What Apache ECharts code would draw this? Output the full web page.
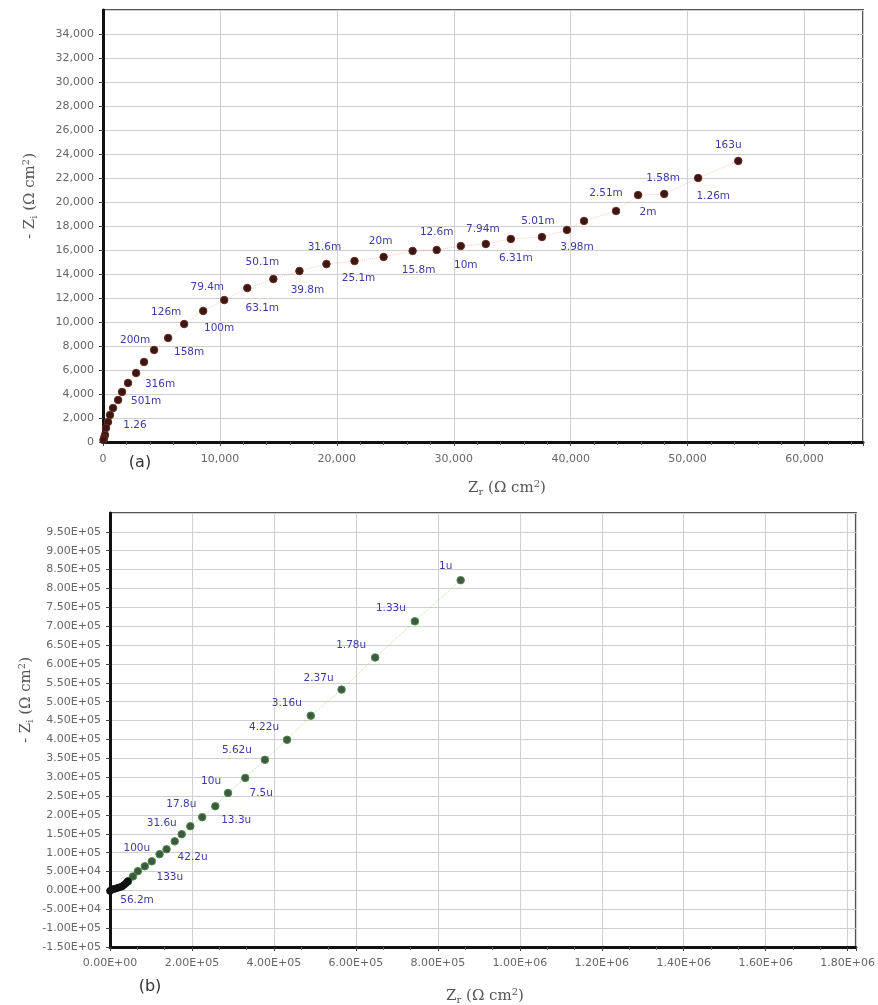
<!DOCTYPE html>
<html>
<head>
<meta charset="utf-8">
<script src="https://cdn.jsdelivr.net/npm/echarts@6/dist/echarts.min.js"></script>
<style>
  html, body { margin: 0; padding: 0; background: #fff; }
  #chart { width: 878px; height: 1005px; }
</style>
</head>
<body>
<div id="chart"></div>
<script>
// (a) Nyquist — Zr / -Zi (Ω cm²), labels = frequency
const zrA = [54330, 50900, 48000, 45760, 43880, 41140, 39680, 37540, 34880, 32740, 30600, 28540,
  26480, 24000, 21510, 19110, 16800, 14570, 12340, 10370, 8570, 6940, 5570, 4370, 3510, 2830,
  2140, 1630, 1290, 860, 600, 430, 260, 170, 90, 40];
const ziA = [23420, 22000, 20670, 20580, 19250, 18420, 17670, 17080, 16920, 16500, 16330, 16000,
  15920, 15420, 15080, 14830, 14250, 13580, 12830, 11830, 10920, 9830, 8670, 7670, 6670, 5750,
  4920, 4170, 3500, 2830, 2250, 1670, 1170, 580, 330, 170];
const lblA = ["163u", "1.58m", "1.26m", "2.51m", "2m", "", "3.98m", "5.01m", "6.31m", "7.94m", "10m", "12.6m",
  "15.8m", "20m", "25.1m", "31.6m", "39.8m", "50.1m", "63.1m", "79.4m", "126m", "100m", "158m", "200m", "", "",
  "316m", "", "501m", "", "", "1.26", "", "", "", ""];
// label offsets (px) from the point, kept apart from the values
const offA = [[-10,-16],[-35,0],[49,2],[-32,-2],[32,1],[0,0],[10,17],[-4,-16],[5,19],[-3,-15],[5,19],[0,-18],
  [6,19],[-3,-16],[4,17],[-2,-17],[8,19],[-11,-17],[15,20],[-17,-13],[-37,1],[35,4],[21,14],[-19,-10],[0,0],[0,0],
  [32,1],[0,0],[28,1],[0,0],[0,0],[27,3],[0,0],[0,0],[0,0],[0,0]];

// (b) high-frequency tail (black) + main arc (green)
const zrB0 = [0, 4800, 9700, 14500, 19400, 24200, 29100, 33900, 38800, 43600];
const ziB0 = [-1300, 2700, 4000, 5300, 6700, 8000, 10600, 14600, 18600, 23900];
const zrB = [855700, 744000, 647000, 565000, 490000, 432000, 378000, 330000, 288000, 257000, 225000,
  196000, 175000, 158000, 138000, 121000, 102000, 85000, 68000, 56000, 44000];
const ziB = [822000, 713000, 617000, 532000, 463000, 399000, 346000, 298000, 258000, 223000, 194000,
  170000, 149000, 130000, 109000, 96000, 77000, 64000, 51000, 37000, 24000];
const lblB = ["1u", "1.33u", "1.78u", "2.37u", "3.16u", "4.22u", "5.62u", "7.5u", "10u", "17.8u", "13.3u",
  "", "31.6u", "", "42.2u", "", "100u", "133u", "", "", ""];
const offB = [[-15,-14],[-24,-13],[-24,-12],[-23,-11],[-24,-12],[-23,-13],[-28,-10],[16,15],[-17,-12],[-34,-2],[34,3],
  [0,0],[-20,-11],[0,0],[26,8],[0,0],[-15,-13],[25,11],[0,0],[0,0],[0,0]];
const lblB0 = "56.2m";

const AX = "#666", LBL = "#3b3ba6";

function sci(v) {
  const [m, e] = v.toExponential(2).split("e");
  const n = parseInt(e, 10);
  return m + "E" + (n < 0 ? "-" : "+") + String(Math.abs(n)).padStart(2, "0");
}
function thousands(v) { return v.toLocaleString("en-US"); }

function pts(xs, ys, labels, offs) {
  return xs.map((x, i) => {
    const d = { value: [x, ys[i]] };
    if (labels && labels[i]) d.label = { show: true, formatter: labels[i], offset: offs[i] };
    return d;
  });
}

const axisBase = (fmt) => ({
  type: "value",
  axisLine: { show: true, onZero: false, lineStyle: { color: "#111", width: 3 } },
  axisTick: { show: true, length: 4, lineStyle: { color: "#444" } },
  axisLabel: { color: AX, fontSize: 11, fontFamily: "DejaVu Sans", formatter: fmt, showMaxLabel: false },
  splitLine: { show: true, lineStyle: { color: "#cfcfcf", width: 1 } },
});

const labelStyle = { position: "inside", color: LBL, fontSize: 10.5, fontFamily: "DejaVu Sans" };

const titleRich = {
  n: { fontSize: 15, fontFamily: "DejaVu Serif", fill: "#555" },
  s: { fontSize: 10, fontFamily: "DejaVu Serif", fill: "#555", padding: [8, 0, 0, 0] },
  p: { fontSize: 10, fontFamily: "DejaVu Serif", fill: "#555", padding: [0, 0, 8, 0] },
};
function title(txt, x, y, rot) {
  return { type: "text", x, y, rotation: rot || 0,
    style: { text: txt, rich: titleRich, align: "center", verticalAlign: "middle" } };
}

const chart = echarts.init(document.getElementById("chart"));
chart.setOption({
  backgroundColor: "#fff",
  animation: false,
  grid: [
    { left: 103, top: 10, width: 760, height: 432, show: true, borderColor: "#555", borderWidth: 2 },
    { left: 110, top: 513, width: 750, height: 434, show: true, borderColor: "#555", borderWidth: 2 },
  ],
  xAxis: [
    { ...axisBase(thousands), gridIndex: 0, min: 0, max: 65000, interval: 10000,
      minorTick: { show: true, splitNumber: 5, length: 3, lineStyle: { color: "#666" } },
      axisLabel: { ...axisBase(thousands).axisLabel, margin: 12 } },
    { ...axisBase(sci), gridIndex: 1, min: 0, max: 1820000, interval: 200000,
      minorTick: { show: true, splitNumber: 3, length: 3, lineStyle: { color: "#666" } },
      axisLabel: { ...axisBase(sci).axisLabel, margin: 11 } },
  ],
  yAxis: [
    { ...axisBase(thousands), gridIndex: 0, min: 0, max: 36000, interval: 2000,
      axisLabel: { ...axisBase(thousands).axisLabel, margin: 9 } },
    { ...axisBase(sci), gridIndex: 1, min: -150000, max: 1000000, interval: 50000,
      axisLabel: { ...axisBase(sci).axisLabel, margin: 9 } },
  ],
  series: [
    { type: "line", xAxisIndex: 0, yAxisIndex: 0, symbol: "circle", symbolSize: 7.5,
      data: pts(zrA, ziA, lblA, offA),
      lineStyle: { color: "rgba(225,110,90,0.35)", width: 1, type: "dotted" },
      itemStyle: { color: "#3a1712", borderColor: "#6a2a20", borderWidth: 1 },
      label: labelStyle, z: 3 },
    { type: "line", xAxisIndex: 1, yAxisIndex: 1, symbol: "circle", symbolSize: 7.5,
      data: pts(zrB, ziB, lblB, offB),
      lineStyle: { color: "rgba(120,200,80,0.55)", width: 1, type: "dotted" },
      itemStyle: { color: "#3d5a40", borderColor: "#4f8a4a", borderWidth: 1 },
      label: labelStyle, z: 3 },
    { type: "line", xAxisIndex: 1, yAxisIndex: 1, symbol: "circle", symbolSize: 7.5,
      data: zrB0.map((x, i) => i === 0
        ? { value: [x, ziB0[i]], label: { show: true, formatter: lblB0, offset: [27, 9] } }
        : [x, ziB0[i]]),
      lineStyle: { color: "#111", width: 3 },
      itemStyle: { color: "#111" },
      label: labelStyle, z: 4 },
  ],
  graphic: [
    title("{n|- Z}{s|i}{n| (Ω cm}{p|2}{n|)}", 30, 196, -Math.PI / 2 * -1),
    title("{n|Z}{s|r}{n| (Ω cm}{p|2}{n|)}", 507, 488),
    title("{n|- Z}{s|i}{n| (Ω cm}{p|2}{n|)}", 26, 700, Math.PI / 2),
    title("{n|Z}{s|r}{n| (Ω cm}{p|2}{n|)}", 485, 996),
    { type: "text", x: 140, y: 463, style: { text: "(a)", fontSize: 16, fontFamily: "DejaVu Sans", fill: "#333", align: "center", verticalAlign: "middle" } },
    { type: "text", x: 150, y: 987, style: { text: "(b)", fontSize: 16, fontFamily: "DejaVu Sans", fill: "#333", align: "center", verticalAlign: "middle" } },
  ],
});
</script>
</body>
</html>
